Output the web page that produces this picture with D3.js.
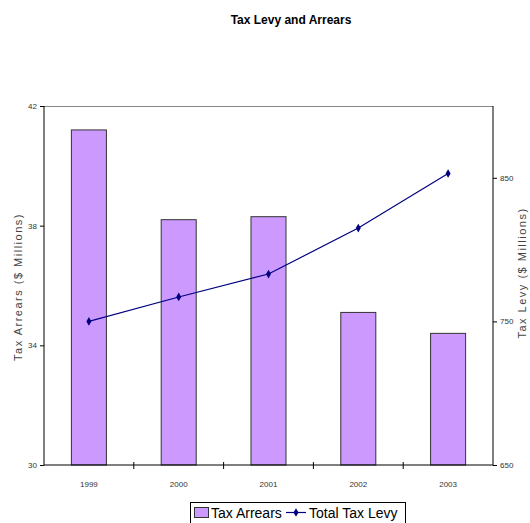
<!DOCTYPE html>
<html><head><meta charset="utf-8">
<script src="https://cdn.jsdelivr.net/npm/d3@7"></script>
<style>
body{margin:0;background:#fff;}
text{font-family:"Liberation Sans Narrow","Liberation Sans",Arial,sans-serif;}
</style></head>
<body><svg id="c" width="530" height="523"></svg>
<script>
const years = ["1999","2000","2001","2002","2003"];
const taxArrears = [41.2, 38.2, 38.3, 35.1, 34.4];
const totalTaxLevy = [750, 767, 783, 815, 853];
const leftTicks = [30, 34, 38, 42];
const rightTicks = [650, 750, 850];

const svg = d3.select("#c");
const L = 44, R = 493, T = 106, B = 465;

const x = d3.scaleBand().domain(years).range([L, R]).paddingInner(0.61).paddingOuter(0.305);
const xb = d3.scaleBand().domain(years).range([L, R]);
const yL = d3.scaleLinear().domain([30, 42]).range([B, T]);
const yR = d3.scaleLinear().domain([650, 900]).range([B, T]);

// top border
svg.append("line").attr("x1", L).attr("x2", R).attr("y1", T + 0.5).attr("y2", T + 0.5)
  .attr("stroke", "#888").attr("stroke-width", 1);

// bars
svg.selectAll("rect.bar").data(years).join("rect").attr("class", "bar")
  .attr("x", d => x(d)).attr("width", x.bandwidth())
  .attr("y", (d, i) => yL(taxArrears[i])).attr("height", (d, i) => B - yL(taxArrears[i]))
  .attr("fill", "#CC99FF").attr("stroke", "#333").attr("stroke-width", 1);

// line
const line = d3.line().x((d, i) => xb(years[i]) + xb.bandwidth() / 2).y(d => yR(d));
svg.append("path").datum(totalTaxLevy).attr("d", line)
  .attr("fill", "none").attr("stroke", "#000080").attr("stroke-width", 1.2);
svg.selectAll("path.mk").data(totalTaxLevy).join("path").attr("class", "mk")
  .attr("transform", (d, i) => `translate(${xb(years[i]) + xb.bandwidth() / 2},${yR(d)})`)
  .attr("d", d3.symbol().type(d3.symbolDiamond).size(22)).attr("fill", "#000080");

// axes
const fs = "8px";
const gL = svg.append("g").attr("transform", `translate(${L},0)`)
  .call(d3.axisLeft(yL).tickValues(leftTicks).tickSize(4).tickPadding(3));
const gR = svg.append("g").attr("transform", `translate(${R},0)`)
  .call(d3.axisRight(yR).tickValues(rightTicks).tickSize(4).tickPadding(3));
const gB = svg.append("g").attr("transform", `translate(0,${B})`)
  .call(d3.axisBottom(xb).tickSize(0).tickPadding(16));
// category separators
svg.selectAll("line.sep").data(years.slice(1)).join("line").attr("class", "sep")
  .attr("x1", d => xb(d)).attr("x2", d => xb(d)).attr("y1", B - 3).attr("y2", B + 4)
  .attr("stroke", "#000");
[gL, gR, gB].forEach(g => {
  g.select(".domain").attr("stroke", "#000");
  g.selectAll(".tick line").attr("stroke", "#000");
  g.selectAll("text").attr("font-size", fs).attr("fill", "#333")
    .attr("font-family", '"Liberation Sans Narrow","Liberation Sans",Arial,sans-serif');
});
gB.select(".domain").attr("d", `M${L},0H${R}`);
gL.select(".domain").attr("d", `M0,${B}V${T}`);
gR.select(".domain").attr("d", `M0,${B}V${T}`);

// titles
svg.append("text").attr("x", 291).attr("y", 24).attr("text-anchor", "middle")
  .attr("font-size", "12px").attr("font-weight", "bold")
  .attr("font-family", '"Liberation Sans",Arial,sans-serif').text("Tax Levy and Arrears");
svg.append("text").attr("transform", "translate(22,287) rotate(-90)").attr("text-anchor", "middle")
  .attr("font-size", "11px").attr("fill", "#444").attr("letter-spacing", "1.5px")
  .text("Tax Arrears ($ Millions)");
svg.append("text").attr("transform", "translate(526,273) rotate(-90)").attr("text-anchor", "middle")
  .attr("font-size", "11px").attr("fill", "#444").attr("letter-spacing", "1.5px")
  .text("Tax Levy ($ Millions)");

// legend
const lg = svg.append("g");
lg.append("rect").attr("x", 190.5).attr("y", 502.5).attr("width", 215).attr("height", 24)
  .attr("fill", "#fff").attr("stroke", "#000");
lg.append("rect").attr("x", 194.5).attr("y", 507.5).attr("width", 14).attr("height", 10)
  .attr("fill", "#CC99FF").attr("stroke", "#333");
lg.append("text").attr("x", 211).attr("y", 518).attr("font-size", "14px").attr("fill", "#000").text("Tax Arrears");
lg.append("line").attr("x1", 286).attr("x2", 306).attr("y1", 512.5).attr("y2", 512.5)
  .attr("stroke", "#000080").attr("stroke-width", 1.2);
lg.append("path").attr("transform", "translate(296,512.5)")
  .attr("d", d3.symbol().type(d3.symbolDiamond).size(22)).attr("fill", "#000080");
lg.append("text").attr("x", 309).attr("y", 518).attr("font-size", "14px").attr("fill", "#000").text("Total Tax Levy");
</script></body></html>
